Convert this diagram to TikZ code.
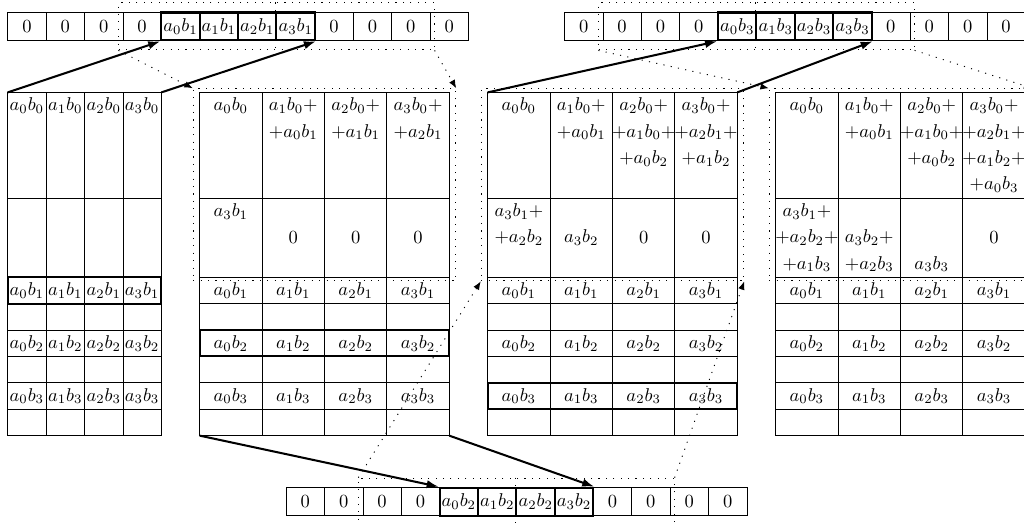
\documentclass[tikz,border=0pt]{standalone}
\usepackage{amsmath}
\usepackage{tikz}
\usetikzlibrary{arrows.meta,calc,fit}

\tikzset{
  cell/.style={draw,minimum width=20.74pt,minimum height=15pt,inner sep=0pt},
  hl/.style={line width=1.1pt},
  entry/.style={inner sep=0pt},
  zoomline/.style={dash pattern=on 0.6pt off 3.4pt,line width=0.5pt},
  zoombox/.style={draw,zoomline,inner sep=0pt},
  zoomarrow/.style={zoomline,-{Latex[length=4.5pt,width=3.5pt]}},
  movearrow/.style={line width=1.1pt,-{Latex[length=6.5pt,width=4.5pt]}}
}

% one 4-column panel: grid, the three b-rows and its corner points
\newcommand{\panelgrid}[1]{%
  \draw (0,-3.5) rectangle (4,-16.5);
  \foreach \y in {-7.5,-10.5,-11.5,-12.5,-13.5,-14.5,-15.5} \draw (0,\y) -- (4,\y);
  \foreach \c in {1,2,3} \draw (\c,-3.5) -- (\c,-16.5);
  \foreach \j in {1,2,3}
    \foreach \i in {0,...,3}
      \node[entry] (#1b\i\j) at (\i+0.5,-9-2*\j) {$a_{\i}b_{\j}$};
  \coordinate (#1nw) at (0,-3.5);
  \coordinate (#1ne) at (4,-3.5);
  \coordinate (#1sw) at (0,-16.5);
  \coordinate (#1se) at (4,-16.5);
  \coordinate (#1me) at (4,-10.5);
}

\begin{document}
\begin{tikzpicture}[x=20.74pt,y=14.26pt]
\path[use as bounding box,clip] (0,0) rectangle (26.667,-19.773);

% panel 1
\begin{scope}[shift={(0.2,0)}]
  \panelgrid{p1}
  \foreach \i in {0,...,3} \node[entry] (p1t\i) at (\i+0.5,-4) {$a_{\i}b_0$};
  \draw[hl] (0,-10.5) rectangle (4,-11.5);
\end{scope}

% panel 2
\begin{scope}[shift={(5.2,0)},x=33.7pt]
  \panelgrid{p2}
  \foreach \c/\l/\tx [count=\n] in {0.5/-4/a_0b_0, 1.5/-4/a_1b_0+, 1.5/-5/+a_0b_1,
      2.5/-4/a_2b_0+, 2.5/-5/+a_1b_1, 3.5/-4/a_3b_0+, 3.5/-5/+a_2b_1,
      0.5/-8/a_3b_1, 1.5/-9/0, 2.5/-9/0, 3.5/-9/0}
    \node[entry] (p2t\n) at (\c,\l) {$\tx$};
  \draw[hl] (0,-12.5) rectangle (4,-13.5);
\end{scope}

% panel 3
\begin{scope}[shift={(12.7,0)},x=33.7pt]
  \panelgrid{p3}
  \foreach \c/\l/\tx [count=\n] in {0.5/-4/a_0b_0, 1.5/-4/a_1b_0+, 1.5/-5/+a_0b_1,
      2.5/-4/a_2b_0+, 2.5/-5/+a_1b_0+, 2.5/-6/+a_0b_2,
      3.5/-4/a_3b_0+, 3.5/-5/+a_2b_1+, 3.5/-6/+a_1b_2,
      0.5/-8/a_3b_1+, 0.5/-9/+a_2b_2, 1.5/-9/a_3b_2, 2.5/-9/0, 3.5/-9/0}
    \node[entry] (p3t\n) at (\c,\l) {$\tx$};
  \draw[hl] (0,-14.5) rectangle (4,-15.5);
\end{scope}

% panel 4
\begin{scope}[shift={(20.2,0)},x=33.7pt]
  \panelgrid{p4}
  \foreach \c/\l/\tx [count=\n] in {0.5/-4/a_0b_0, 1.5/-4/a_1b_0+, 1.5/-5/+a_0b_1,
      2.5/-4/a_2b_0+, 2.5/-5/+a_1b_0+, 2.5/-6/+a_0b_2,
      3.5/-4/a_3b_0+, 3.5/-5/+a_2b_1+, 3.5/-6/+a_1b_2+, 3.5/-7/+a_0b_3,
      0.5/-8/a_3b_1+, 0.5/-9/+a_2b_2+, 0.5/-10/+a_1b_3,
      1.5/-9/a_3b_2+, 1.5/-10/+a_2b_3, 2.5/-10/a_3b_3, 3.5/-9/0}
    \node[entry] (p4t\n) at (\c,\l) {$\tx$};
\end{scope}

% memory strips
\foreach \k in {0,1,2,3,8,9,10,11} \node[cell] (tl\k) at (0.7+\k,-1) {$0$};
\foreach \i [evaluate=\i as \k using int(\i+4)] in {0,...,3}
  \node[cell,hl] (tl\k) at (0.7+\k,-1) {$a_{\i}b_1$};
\foreach \k in {0,1,2,3,8,9,10,11} \node[cell] (bt\k) at (7.95+\k,-19) {$0$};
\foreach \i [evaluate=\i as \k using int(\i+4)] in {0,...,3}
  \node[cell,hl] (bt\k) at (7.95+\k,-19) {$a_{\i}b_2$};
\foreach \k in {0,1,2,3,8,9,10,11} \node[cell] (tr\k) at (15.2+\k,-1) {$0$};
\foreach \i [evaluate=\i as \k using int(\i+4)] in {0,...,3}
  \node[cell,hl] (tr\k) at (15.2+\k,-1) {$a_{\i}b_3$};

% dotted windows
\node[zoombox,fit=(tl3)(tl10),inner xsep=2pt,inner ysep=5pt] (tlz) {};
\draw[zoomline] (tl7.north west |- tlz.north) -- (tl7.south west |- tlz.south);
\node[zoombox,fit=(bt2)(bt9),inner xsep=2pt,inner ysep=5pt] (btz) {};
\draw[zoomline] (bt6.north west |- btz.north) -- (bt6.south west |- btz.south);
\node[zoombox,fit=(tr1)(tr8),inner xsep=2pt,inner ysep=5pt] (trz) {};
\draw[zoomline] (tr5.north west |- trz.north) -- (tr5.south west |- trz.south);
\node[zoombox,fit=(p2nw)(p2me),inner xsep=3.5pt,inner ysep=2pt] (p2z) {};
\node[zoombox,fit=(p3nw)(p3me),inner xsep=3.5pt,inner ysep=2pt] (p3z) {};
\node[zoombox,fit=(p4nw)(p4me),inner xsep=3.5pt,inner ysep=2pt] (p4z) {};

% arrows
\draw[movearrow] (p1nw) -- (tl4.south west);
\draw[movearrow] (p1ne) -- (tl7.south east);
\draw[zoomarrow] (tlz.south west) -- (p2z.north west);
\draw[zoomarrow] (tlz.south east) -- (p2z.north east);
\draw[movearrow] (p2sw) -- (bt4.north west);
\draw[movearrow] (p2se) -- (bt7.north east);
\draw[zoomarrow] (btz.north west) -- (p3z.south west);
\draw[zoomarrow] (btz.north east) -- (p3z.south east);
\draw[movearrow] (p3nw) -- (tr4.south west);
\draw[movearrow] (p3ne) -- (tr7.south east);
\draw[zoomarrow] (trz.south west) -- (p4z.north west);
\draw[zoomarrow] (trz.south east) -- (p4z.north east);
\end{tikzpicture}
\end{document}
